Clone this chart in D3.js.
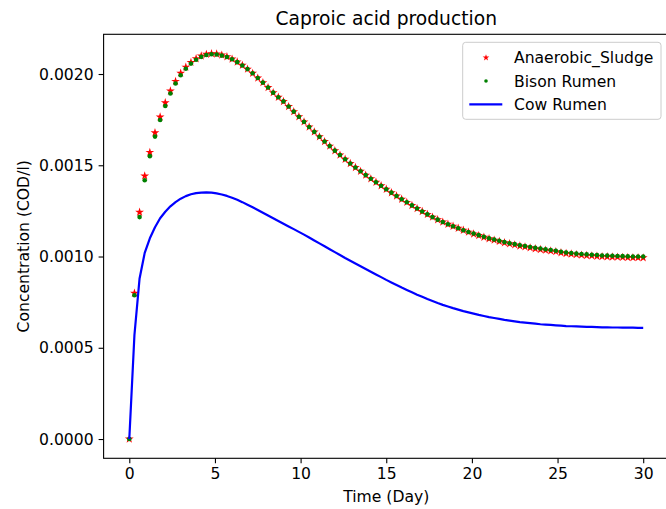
<!DOCTYPE html>
<html>
<head>
<meta charset="utf-8">
<script src="https://cdn.jsdelivr.net/npm/d3@7"></script>
<style>
  body { margin: 0; background: #fff; }
  text { font-family: "DejaVu Sans", sans-serif; fill: #000; }
</style>
</head>
<body>
<div id="chart"></div>
<script>
// time in days (same grid for all three series)
var days = [0, 0.3, 0.6, 0.9, 1.2, 1.5, 1.8, 2.1, 2.4, 2.7,
  3, 3.3, 3.6, 3.9, 4.2, 4.5, 4.8, 5.1, 5.4, 5.7,
  6, 6.3, 6.6, 6.9, 7.2, 7.5, 7.8, 8.1, 8.4, 8.7,
  9, 9.3, 9.6, 9.9, 10.2, 10.5, 10.8, 11.1, 11.4, 11.7,
  12, 12.3, 12.6, 12.9, 13.2, 13.5, 13.8, 14.1, 14.4, 14.7,
  15, 15.3, 15.6, 15.9, 16.2, 16.5, 16.8, 17.1, 17.4, 17.7,
  18, 18.3, 18.6, 18.9, 19.2, 19.5, 19.8, 20.1, 20.4, 20.7,
  21, 21.3, 21.6, 21.9, 22.2, 22.5, 22.8, 23.1, 23.4, 23.7,
  24, 24.3, 24.6, 24.9, 25.2, 25.5, 25.8, 26.1, 26.4, 26.7,
  27, 27.3, 27.6, 27.9, 28.2, 28.5, 28.8, 29.1, 29.4, 29.7,
  30];

var anaerobicSludge = [0, 0.000799, 0.001243, 0.001442, 0.001571, 0.001679, 0.001765, 0.001843, 0.001907, 0.00196,
  0.002005, 0.002038, 0.002064, 0.002084, 0.002099, 0.002108, 0.002112, 0.00211, 0.002104, 0.002095,
  0.002082, 0.002066, 0.002048, 0.002027, 0.002004, 0.001978, 0.001953, 0.001926, 0.001898, 0.001873,
  0.00185, 0.001822, 0.001794, 0.001766, 0.001738, 0.00171, 0.001683, 0.001656, 0.00163, 0.001605,
  0.00158, 0.001556, 0.001533, 0.00151, 0.001488, 0.001467, 0.001446, 0.001426, 0.001407, 0.001388,
  0.001369, 0.00135, 0.001332, 0.001314, 0.001297, 0.00128, 0.001263, 0.001247, 0.001231, 0.001216,
  0.001202, 0.001189, 0.001177, 0.001166, 0.001155, 0.001144, 0.001134, 0.001124, 0.001115, 0.001106,
  0.001098, 0.00109, 0.001083, 0.001076, 0.00107, 0.001064, 0.001058, 0.001053, 0.001048, 0.001043,
  0.001039, 0.001035, 0.001031, 0.001027, 0.001021, 0.001017, 0.001014, 0.001011, 0.001008, 0.001006,
  0.001004, 0.001002, 0.001, 0.000999, 0.000998, 0.000997, 0.000996, 0.000995, 0.000994, 0.000994,
  0.000993];

var bisonRumen = [0, 0.000788, 0.001216, 0.001418, 0.00155, 0.001657, 0.001748, 0.001825, 0.001893, 0.001948,
  0.001993, 0.002029, 0.002057, 0.002078, 0.002094, 0.002104, 0.002108, 0.002107, 0.002101, 0.002093,
  0.002081, 0.002065, 0.002047, 0.002027, 0.002004, 0.001978, 0.001953, 0.001926, 0.001898, 0.001873,
  0.00185, 0.001822, 0.001794, 0.001766, 0.001738, 0.00171, 0.001683, 0.001656, 0.00163, 0.001605,
  0.00158, 0.001556, 0.001533, 0.00151, 0.001488, 0.001467, 0.001446, 0.001426, 0.001407, 0.001388,
  0.001369, 0.00135, 0.001332, 0.001314, 0.001297, 0.00128, 0.001263, 0.001247, 0.001231, 0.001216,
  0.001202, 0.001189, 0.001177, 0.001166, 0.001155, 0.001144, 0.001134, 0.001126, 0.001117, 0.001108,
  0.0011, 0.001093, 0.001086, 0.001079, 0.001073, 0.001068, 0.001062, 0.001057, 0.001052, 0.001048,
  0.001044, 0.00104, 0.001036, 0.001032, 0.001026, 0.001022, 0.001019, 0.001016, 0.001014, 0.001012,
  0.00101, 0.001008, 0.001006, 0.001005, 0.001004, 0.001003, 0.001002, 0.001001, 0.001, 0.001,
  0.001];

var cowRumen = [0, 0.00057, 0.00088, 0.00102, 0.0011, 0.00116, 0.00121, 0.001245, 0.001275, 0.001298,
  0.001317, 0.001331, 0.001341, 0.001347, 0.00135, 0.001351, 0.00135, 0.001346, 0.00134, 0.001332,
  0.001322, 0.001311, 0.001298, 0.001284, 0.00127, 0.001255, 0.00124, 0.001225, 0.00121, 0.001195,
  0.00118, 0.001165, 0.00115, 0.001135, 0.00112, 0.001104, 0.001088, 0.001072, 0.001056, 0.00104,
  0.001024, 0.001008, 0.000992, 0.000977, 0.000962, 0.000947, 0.000932, 0.000917, 0.000902, 0.000887,
  0.000872, 0.000858, 0.000844, 0.00083, 0.000817, 0.000804, 0.000791, 0.000779, 0.000767, 0.000756,
  0.000745, 0.000735, 0.000726, 0.000717, 0.000709, 0.000701, 0.000694, 0.000687, 0.00068, 0.000674,
  0.000668, 0.000663, 0.000658, 0.000653, 0.000649, 0.000645, 0.000641, 0.000638, 0.000635, 0.000632,
  0.000629, 0.000627, 0.000625, 0.000623, 0.000621, 0.000619, 0.000618, 0.000617, 0.000616, 0.000615,
  0.000614, 0.000613, 0.000612, 0.000612, 0.000611, 0.000611, 0.00061, 0.00061, 0.00061, 0.000609,
  0.000609];

var xTicks = [0, 5, 10, 15, 20, 25, 30];
var yTicks = [0, 0.0005, 0.001, 0.0015, 0.002];
var legendNames = ["Anaerobic_Sludge", "Bison Rumen", "Cow Rumen"];

var width = 666, height = 509;
var plotLeft = 103.6, plotRight = 668.9, plotTop = 34.3, plotBottom = 458.3;
var fontSize = "15.6px";

var svg = d3.select("#chart")
    .append("svg")
    .attr("width", width)
    .attr("height", height);

// matplotlib style 5% margins round the data
var xMin = d3.min(days), xMax = d3.max(days);
var xPad = (xMax - xMin) * 0.05;
var allY = anaerobicSludge.concat(bisonRumen, cowRumen);
var yMin = d3.min(allY), yMax = d3.max(allY);
var yPad = (yMax - yMin) * 0.05;

var x = d3.scaleLinear().domain([xMin - xPad, xMax + xPad]).range([plotLeft, plotRight]);
var y = d3.scaleLinear().domain([yMin - yPad, yMax + yPad]).range([plotBottom, plotTop]);

var xAxis = svg.append("g")
    .attr("transform", "translate(0," + plotBottom + ")")
    .call(d3.axisBottom(x).tickValues(xTicks).tickFormat(d3.format("d")).tickSize(5).tickPadding(5));
var yAxis = svg.append("g")
    .attr("transform", "translate(" + plotLeft + ",0)")
    .call(d3.axisLeft(y).tickValues(yTicks).tickFormat(d3.format(".4f")).tickSize(5).tickPadding(5));

[xAxis, yAxis].forEach(function(a){
    a.select(".domain").remove();
    a.selectAll(".tick line").attr("stroke", "#000").attr("stroke-width", 1.1);
    a.selectAll(".tick text").style("font-size", fontSize).style("font-family", "DejaVu Sans");
});

// spines
svg.append("rect")
    .attr("x", plotLeft).attr("y", plotTop)
    .attr("width", plotRight - plotLeft).attr("height", plotBottom - plotTop)
    .attr("fill", "none").attr("stroke", "#000").attr("stroke-width", 1.1);

var star = d3.symbol().type(d3.symbolStar);

svg.append("g").selectAll("path")
    .data(days)
    .enter()
  .append("path")
    .attr("d", star.size(24)())
    .attr("transform", function(d, i){ return "translate(" + x(d) + "," + y(anaerobicSludge[i]) + ")"; })
    .attr("fill", "#ff0000");

svg.append("g").selectAll("circle")
    .data(days)
    .enter()
  .append("circle")
    .attr("cx", function(d){ return x(d); })
    .attr("cy", function(d, i){ return y(bisonRumen[i]); })
    .attr("r", 2.3)
    .attr("fill", "#008000");

var line = d3.line()
    .x(function(d){ return x(d); })
    .y(function(d, i){ return y(cowRumen[i]); });

svg.append("path")
    .datum(days)
    .attr("d", line)
    .attr("fill", "none")
    .attr("stroke", "#0000ff")
    .attr("stroke-width", 2.2)
    .attr("stroke-linejoin", "round");

// title and axis labels
svg.append("text")
    .attr("x", (plotLeft + plotRight) / 2).attr("y", 25)
    .attr("text-anchor", "middle")
    .style("font-size", "18.7px")
    .text("Caproic acid production");

svg.append("text")
    .attr("x", (plotLeft + plotRight) / 2).attr("y", 502)
    .attr("text-anchor", "middle")
    .style("font-size", fontSize)
    .text("Time (Day)");

svg.append("text")
    .attr("transform", "translate(28.5," + ((plotTop + plotBottom) / 2) + ") rotate(-90)")
    .attr("text-anchor", "middle")
    .style("font-size", fontSize)
    .text("Concentration (COD/l)");

// legend
var legend = svg.append("g");
legend.append("rect")
    .attr("x", 462.7).attr("y", 42.3)
    .attr("width", 198.3).attr("height", 77)
    .attr("rx", 3).attr("ry", 3)
    .attr("fill", "#fff").attr("fill-opacity", 0.8)
    .attr("stroke", "#cccccc").attr("stroke-width", 1);

var rowY = [57.7, 81, 104.3];
legendNames.forEach(function(name, i){
    if (i == 0){
        legend.append("path")
            .attr("d", star.size(14)())
            .attr("transform", "translate(486," + rowY[i] + ")")
            .attr("fill", "#ff0000");
    }
    if (i == 1){
        legend.append("circle")
            .attr("cx", 486).attr("cy", rowY[i]).attr("r", 1.8)
            .attr("fill", "#008000");
    }
    if (i == 2){
        legend.append("line")
            .attr("x1", 469.3).attr("x2", 502.3)
            .attr("y1", rowY[i]).attr("y2", rowY[i])
            .attr("stroke", "#0000ff").attr("stroke-width", 2.2);
    }
    legend.append("text")
        .attr("x", 514).attr("y", rowY[i] + 5.6)
        .style("font-size", fontSize)
        .text(name);
});
</script>
</body>
</html>
